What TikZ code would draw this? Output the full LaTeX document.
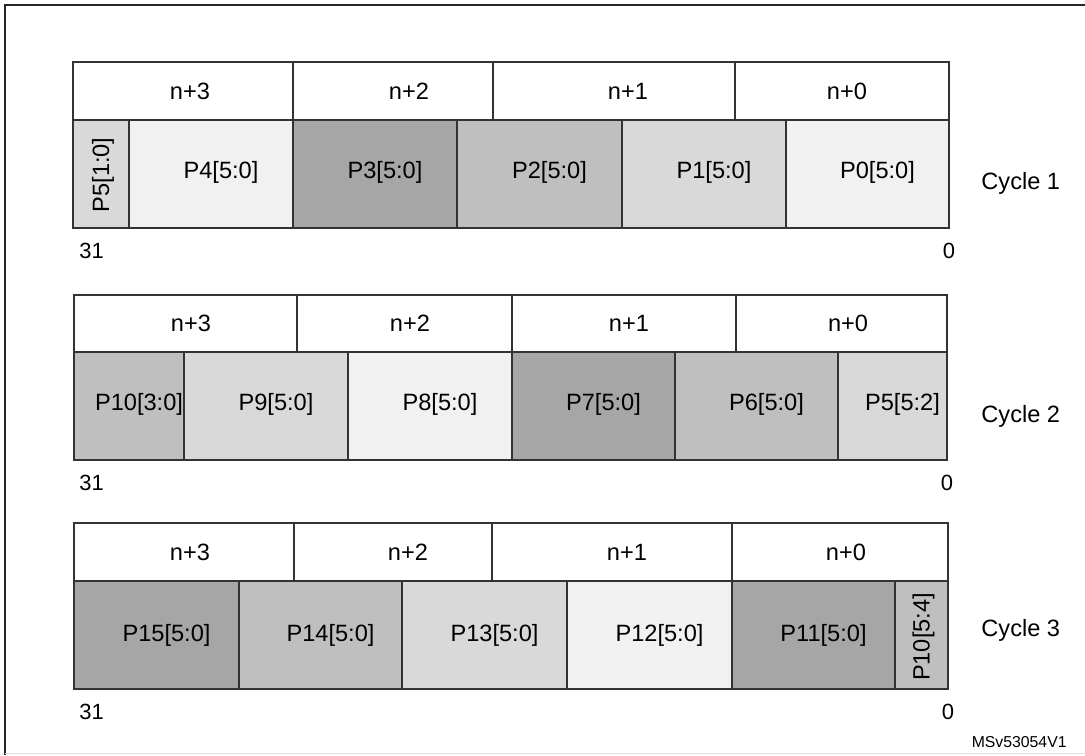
\documentclass[tikz,border=0pt]{standalone}
\usepackage{fontspec}
\setmainfont{Liberation Sans}
\usetikzlibrary{positioning}
\definecolor{pxdark}{HTML}{A6A6A6}
\definecolor{pxmed}{HTML}{BFBFBF}
\definecolor{pxlight}{HTML}{D9D9D9}
\definecolor{pxvlight}{HTML}{F1F1F1}

\begin{document}
\begin{tikzpicture}[x=0.5pt,y=-0.5pt]
		\tikzstyle{cellline} = [draw=black!80, line width=0.7pt];
		\tikzstyle{hdrlabel} = [inner sep=0pt, text height=8.6pt, text depth=2.4pt, font=\fontsize{11.8}{13}\selectfont];
		\tikzstyle{pxlabel} = [hdrlabel, xshift=5pt];
		\tikzstyle{rotlabel} = [hdrlabel, rotate=90];
		\tikzstyle{bitlabel} = [inner sep=0pt, text height=8pt, text depth=0pt, font=\fontsize{11}{13}\selectfont];
		\tikzstyle{cyclelabel} = [hdrlabel, anchor=west];
		\useasboundingbox (0,0) rectangle (1085,755);
		\coordinate (frametl) at (5,5);
		\draw [line width=1pt, black!85] (5,755) -- (frametl) -- (1085,5);
		\draw [black!12] (5,753) -- (1085,753);
		% cycle 1
		\foreach \xa/\xb/\txt/\cx/\nm in {73/293/n+3/190/c1h3, 293/493/n+2/409/c1h2, 493/735/n+1/628/c1h1, 735/949/n+0/847/c1h0} {
			\path [cellline, fill=white] (\xa,62) rectangle (\xb,120);
			\node (\nm) [hdrlabel] at (\cx,93) {\txt};
		}
		\foreach \xa/\xb/\col/\txt/\nm in {129/293/pxvlight/P4[5:0]/c1p4, 293/457/pxdark/P3[5:0]/c1p3, 457/622/pxmed/P2[5:0]/c1p2, 622/786/pxlight/P1[5:0]/c1p1, 786/949/pxvlight/P0[5:0]/c1p0} {
			\path [cellline, fill=\col] (\xa,120) rectangle (\xb,228);
			\node (\nm) [pxlabel] at ({(\xa+\xb)/2},172) {\txt};
		}
		\path [cellline, fill=pxlight] (73,120) rectangle (129,228);
		\node (c1p5) [rotlabel] at (103,175) {P5[1:0]};
		\node (c1msb) [bitlabel, anchor=west] at (79,250) {31};
		\node (c1lsb) [bitlabel] at (949,250) {0};
		\node (cycle1) [cyclelabel] at (981,183) {Cycle 1};
		% cycle 2
		\foreach \xa/\xb/\txt/\cx/\nm in {74/297/n+3/191/c2h3, 297/512/n+2/410/c2h2, 512/736/n+1/629/c2h1, 736/947/n+0/848/c2h0} {
			\path [cellline, fill=white] (\xa,295) rectangle (\xb,352);
			\node (\nm) [hdrlabel] at (\cx,325.5) {\txt};
		}
		\foreach \xa/\xb/\col/\txt/\nm in {74/184/pxmed/P10[3:0]/c2p10, 184/348/pxlight/P9[5:0]/c2p9, 348/512/pxvlight/P8[5:0]/c2p8, 512/675/pxdark/P7[5:0]/c2p7, 675/838/pxmed/P6[5:0]/c2p6, 838/947/pxlight/P5[5:2]/c2p5} {
			\path [cellline, fill=\col] (\xa,352) rectangle (\xb,460);
			\node (\nm) [pxlabel] at ({(\xa+\xb)/2},404) {\txt};
		}
		\node (c2msb) [bitlabel, anchor=west] at (79,482) {31};
		\node (c2lsb) [bitlabel] at (947,482) {0};
		\node (cycle2) [cyclelabel] at (981,416) {Cycle 2};
		% cycle 3
		\foreach \xa/\xb/\txt/\cx/\nm in {74/294/n+3/190/c3h3, 294/492/n+2/408/c3h2, 492/732/n+1/627/c3h1, 732/948/n+0/846/c3h0} {
			\path [cellline, fill=white] (\xa,523) rectangle (\xb,581);
			\node (\nm) [hdrlabel] at (\cx,554) {\txt};
		}
		\foreach \xa/\xb/\col/\txt/\nm in {74/239/pxdark/P15[5:0]/c3p15, 239/402/pxmed/P14[5:0]/c3p14, 402/567/pxlight/P13[5:0]/c3p13, 567/732/pxvlight/P12[5:0]/c3p12, 732/895/pxdark/P11[5:0]/c3p11} {
			\path [cellline, fill=\col] (\xa,581) rectangle (\xb,689);
			\node (\nm) [pxlabel] at ({(\xa+\xb)/2},635) {\txt};
		}
		\path [cellline, fill=pxmed] (895,581) rectangle (948,689);
		\node (c3p10) [rotlabel] at (923.5,637) {P10[5:4]};
		\node (c3msb) [bitlabel, anchor=west] at (79,711) {31};
		\node (c3lsb) [bitlabel] at (948,711) {0};
		\node (cycle3) [cyclelabel] at (981,630) {Cycle 3};
		\node (docid) [anchor=east, inner sep=0pt, font=\fontsize{7.9}{9}\selectfont] at (1067,742) {MSv53054V1};
	\end{tikzpicture}
\end{document}
